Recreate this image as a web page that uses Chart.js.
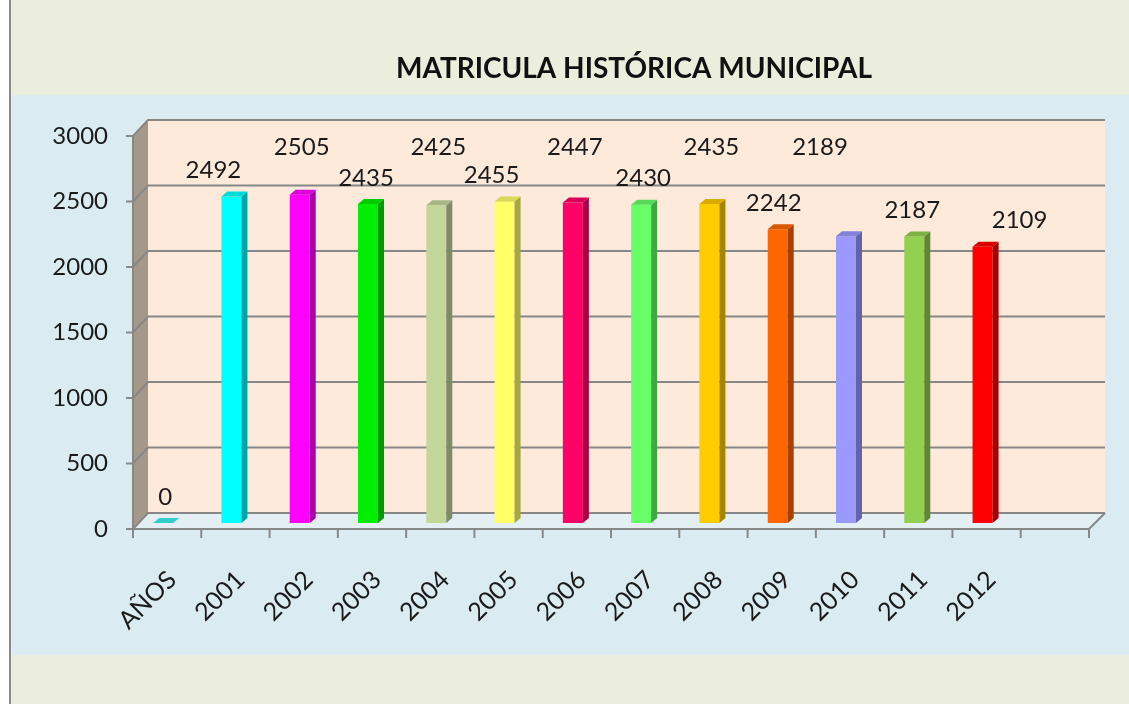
<!DOCTYPE html>
<html>
<head>
<meta charset="utf-8">
<title>Matrícula histórica municipal</title>
<script src="https://cdn.jsdelivr.net/npm/chart.js@4.4.0/dist/chart.umd.min.js"></script>
<style>
  html, body { margin: 0; padding: 0; background: #ffffff; }
  #wrap { width: 1129px; height: 704px; }
</style>
</head>
<body>
<div id="wrap"><canvas id="matriculaChart" width="1129" height="704"></canvas></div>
<script>
// datos del gráfico
const titulo = 'MATRICULA HISTÓRICA MUNICIPAL';
const categorias = ['AÑOS', '2001', '2002', '2003', '2004', '2005', '2006', '2007', '2008', '2009', '2010', '2011', '2012', ''];
const matricula = [0, 2492, 2505, 2435, 2425, 2455, 2447, 2430, 2435, 2242, 2189, 2187, 2109, null];
const ejeMin = 0;
const ejeMax = 3000;
const ejePaso = 500;

// colores de cada barra (cara frontal)
const colores = ['#33cccc', '#00ffff', '#ff00ff', '#00ee00', '#c4d79b', '#ffff66', '#ff0066',
                 '#66ff66', '#ffcc00', '#ff6600', '#9999ff', '#92d050', '#ff0000', '#ffffff'];
// etiquetas que Excel subió / corrió para que no se pisen
const etiquetasAltas = [2, 4, 6, 8, 10];
const corrimientoEtiqueta = [0, -20, 0, -4, 0, -15, 0, 0, 0, -6, -28, -4, 35, 0];

const FUENTE = "Lato, 'Open Sans', sans-serif";

function oscurecer(hex, f) {
    const n = parseInt(hex.slice(1), 16);
    const r = Math.round(((n >> 16) & 255) * f);
    const g = Math.round(((n >> 8) & 255) * f);
    const b = Math.round((n & 255) * f);
    return `rgb(${r},${g},${b})`;
}

// fondo, paredes 3D y ejes frontales
const marco3d = {
    id: 'marco3d',
    beforeDraw(chart) {
        const ctx = chart.ctx;
        const area = chart.chartArea;
        const ys = chart.scales.y;
        const W = chart.width, H = chart.height;

        const front = v => ys.getPixelForValue(v) + 6;
        const back = v => front(v) - 16;
        const fx0 = area.left + 4, fx1 = area.right + 4;
        const bx0 = fx0 + 15, bx1 = fx1 + 16;

        ctx.save();
        ctx.fillStyle = '#ffffff';
        ctx.fillRect(0, 0, W, H);
        ctx.fillStyle = '#ebeedd';
        ctx.fillRect(11, 0, W - 11, H);
        ctx.fillStyle = '#daecf2';
        ctx.fillRect(12, 95, W - 12, 560);
        ctx.fillStyle = '#8a8a8a';
        ctx.fillRect(9, 0, 2, H);

        // título
        ctx.fillStyle = '#111111';
        ctx.font = `bold 28px ${FUENTE}`;
        ctx.textAlign = 'center';
        ctx.textBaseline = 'middle';
        ctx.fillText(titulo, 634, 69);

        // pared del fondo
        ctx.fillStyle = '#fdeadb';
        ctx.fillRect(bx0, back(ejeMax), bx1 - bx0, back(ejeMin) - back(ejeMax));

        // pared lateral
        ctx.fillStyle = '#a69888';
        ctx.beginPath();
        ctx.moveTo(fx0, front(ejeMax));
        ctx.lineTo(bx0, back(ejeMax));
        ctx.lineTo(bx0, back(ejeMin));
        ctx.lineTo(fx0, front(ejeMin));
        ctx.closePath();
        ctx.fill();

        // piso
        ctx.fillStyle = '#e4eff3';
        ctx.beginPath();
        ctx.moveTo(fx0, front(ejeMin));
        ctx.lineTo(bx0, back(ejeMin));
        ctx.lineTo(bx1, back(ejeMin));
        ctx.lineTo(fx1, front(ejeMin));
        ctx.closePath();
        ctx.fill();

        // líneas de división
        ctx.strokeStyle = '#878787';
        ctx.lineWidth = 2;
        for (let v = ejeMin; v <= ejeMax; v += ejePaso) {
            ctx.beginPath();
            ctx.moveTo(fx0, front(v));
            ctx.lineTo(bx0, back(v));
            ctx.lineTo(bx1, back(v));
            ctx.stroke();
            // marcas del eje vertical
            ctx.beginPath();
            ctx.moveTo(fx0 - 7, front(v));
            ctx.lineTo(fx0, front(v));
            ctx.stroke();
        }

        // ejes frontales
        ctx.beginPath();
        ctx.moveTo(fx0, front(ejeMax));
        ctx.lineTo(fx0, front(ejeMin));
        ctx.lineTo(fx1, front(ejeMin));
        ctx.lineTo(bx1, back(ejeMin));
        ctx.stroke();

        const n = categorias.length;
        const paso = (area.right - area.left) / n;
        for (let i = 0; i <= n; i++) {
            const x = fx0 + i * paso;
            ctx.beginPath();
            ctx.moveTo(x, front(ejeMin));
            ctx.lineTo(x, front(ejeMin) + 9);
            ctx.stroke();
        }
        ctx.restore();
    },
    afterDatasetsDraw(chart) {
        const ctx = chart.ctx;
        const area = chart.chartArea;
        const meta = chart.getDatasetMeta(0);
        ctx.save();
        meta.data.forEach((bar, i) => {
            const valor = matricula[i];
            if (valor === null || valor === undefined) return;
            const { x, y, base, width } = bar.getProps(['x', 'y', 'base', 'width'], true);
            const l = x - width / 2, r = x + width / 2;
            const color = colores[i];

            // cara lateral
            ctx.fillStyle = oscurecer(color, 0.65);
            ctx.beginPath();
            ctx.moveTo(r, y);
            ctx.lineTo(r + 6, y - 5);
            ctx.lineTo(r + 6, base - 5);
            ctx.lineTo(r, base);
            ctx.closePath();
            ctx.fill();

            // tapa
            ctx.fillStyle = valor === 0 ? color : oscurecer(color, 0.85);
            ctx.beginPath();
            ctx.moveTo(l, y);
            ctx.lineTo(l + 6, y - 5);
            ctx.lineTo(r + 6, y - 5);
            ctx.lineTo(r, y);
            ctx.closePath();
            ctx.fill();

            // etiqueta de datos
            ctx.fillStyle = '#1a1a1a';
            ctx.font = `24px ${FUENTE}`;
            ctx.textAlign = 'center';
            ctx.textBaseline = 'middle';
            const ly = etiquetasAltas.includes(i) ? area.top + 17 : y - 26;
            ctx.fillText(String(valor), x + 2 + corrimientoEtiqueta[i], ly);
        });
        ctx.restore();
    }
};

new Chart(document.getElementById('matriculaChart'), {
    type: 'bar',
    data: {
        labels: categorias,
        datasets: [{
            label: 'Matrícula',
            data: matricula,
            backgroundColor: colores,
            borderWidth: 0,
            barPercentage: 0.293,
            categoryPercentage: 1
        }]
    },
    options: {
        responsive: false,
        animation: false,
        layout: {
            padding: { top: 130, left: 20, right: 44, bottom: 0 }
        },
        scales: {
            x: {
                grid: { display: false, drawTicks: false },
                border: { display: false },
                ticks: {
                    autoSkip: false,
                    minRotation: 45,
                    maxRotation: 45,
                    padding: 42,
                    labelOffset: 9,
                    color: '#1a1a1a',
                    font: { family: FUENTE, size: 25 }
                },
                afterFit(scale) { scale.height = 181; }
            },
            y: {
                min: ejeMin,
                max: ejeMax,
                grid: { display: false, drawTicks: false },
                border: { display: false },
                ticks: {
                    stepSize: ejePaso,
                    padding: 21,
                    labelOffset: 6,
                    color: '#1a1a1a',
                    font: { family: FUENTE, size: 24 },
                    callback: v => String(v)
                },
                afterFit(scale) { scale.width = 109; }
            }
        },
        plugins: {
            legend: { display: false },
            title: { display: false },
            tooltip: { enabled: false }
        }
    },
    plugins: [marco3d]
});
</script>
</body>
</html>
